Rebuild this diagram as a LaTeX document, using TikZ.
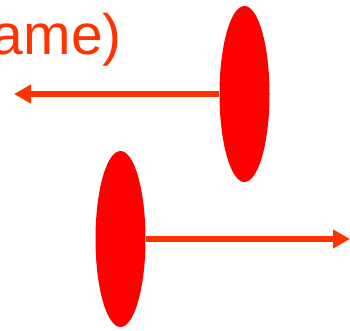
\documentclass[tikz,border=0pt]{standalone}
\usepackage{fontspec}
\setmainfont{Liberation Sans}
\usetikzlibrary{arrows.meta,shapes.geometric}
\definecolor{markred}{HTML}{FF0000}
\definecolor{markorange}{HTML}{FF3300}

\begin{document}
\begin{tikzpicture}[
  x=1pt, y=-1pt,
  blob/.style={ellipse, fill=markred, draw=none, inner sep=0pt,
               minimum width=50pt, minimum height=176pt},
  label/.style={text=markorange, inner sep=0pt, anchor=base east,
                font=\fontsize{57}{60}\selectfont},
  arrow/.style={-{Triangle[length=17pt,width=18pt]}, line width=6pt, draw=markorange}
]
\useasboundingbox (0,0) rectangle (350,331);
\clip (0,0) rectangle (350,331);

\node[label] (caption) at (122,55) {ame)};

\node[blob] (upper) at (244.5,94) {};
\node[blob] (lower) at (120.5,239) {};

\coordinate (leftend) at (14,94);
\coordinate (rightend) at (350,239);

\draw[arrow] (upper.west) -- (leftend);
\draw[arrow] (lower.east) -- (rightend);
\end{tikzpicture}
\end{document}
